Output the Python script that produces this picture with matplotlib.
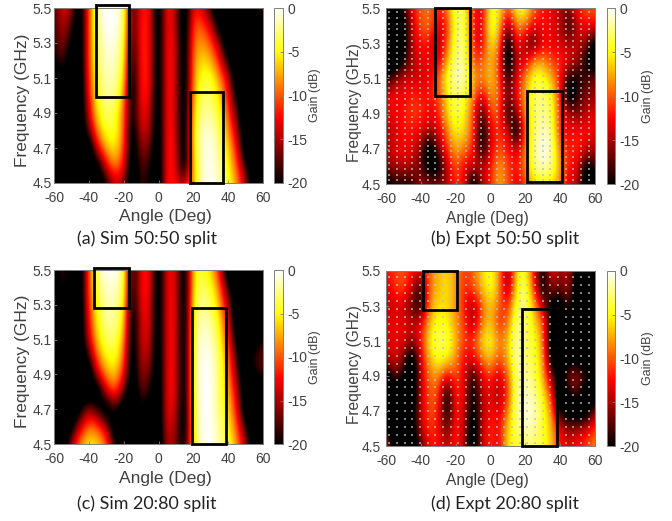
import numpy as np
import matplotlib
matplotlib.use('Agg')
import matplotlib.pyplot as plt
from matplotlib.colors import LinearSegmentedColormap
from matplotlib.patches import Rectangle

plt.rcParams['font.family'] = ['Liberation Sans', 'DejaVu Sans']
plt.rcParams['axes.unicode_minus'] = False

# sampled every 5 deg and every 0.1 GHz, first row is 5.5 GHz
angles = np.arange(-60, 61, 5)
freqs = [5.5, 5.4, 5.3, 5.2, 5.1, 5.0, 4.9, 4.8, 4.7, 4.6, 4.5]

sim_50_50 = [
    [-18, -13, -15, -24, -10, -1.5, 0, 0, -1.5, -20, -12, -12, -24, -11, -15, -24, -12, -14, -19, -24, -24, -24, -24, -19, -18],
    [-19, -14, -18, -24, -10, -2, 0, 0, -2, -20, -11, -12, -24, -11, -15, -24, -10, -10, -14, -22, -24, -24, -24, -24, -22],
    [-19, -15, -21, -24, -10, -2.5, -0.5, -0.5, -3, -21, -11, -12, -24, -11, -14, -24, -9, -8, -10, -16, -24, -24, -24, -24, -24],
    [-21, -17, -24, -24, -10, -3, -1, -1, -4, -22, -11, -12, -24, -11, -14, -24, -8, -6, -7, -12, -20, -24, -24, -24, -24],
    [-24, -20, -24, -24, -11, -3.5, -1.5, -1.5, -5, -23, -11, -12, -24, -11, -14, -24, -8, -4, -4, -8, -14, -24, -24, -24, -24],
    [-24, -24, -24, -24, -12, -4, -2, -2, -7, -24, -11, -13, -24, -11, -14, -24, -7, -3, -3, -6, -12, -21, -24, -24, -24],
    [-24, -24, -24, -24, -14, -5, -3, -3.5, -9, -22, -12, -14, -24, -11, -14, -24, -6, -2, -2, -4, -10, -18, -24, -24, -20],
    [-24, -24, -24, -24, -17, -8, -4, -4, -9, -24, -13, -15, -24, -11, -14, -24, -5, -1, -1, -3, -8, -15, -24, -24, -20],
    [-24, -24, -24, -24, -24, -13, -7, -5, -10, -24, -15, -17, -24, -11, -13, -24, -5, -1, 0, -2.5, -6, -12, -24, -24, -24],
    [-24, -24, -24, -24, -24, -22, -13, -8, -12, -24, -17, -19, -24, -11, -13, -24, -6, -1, 0, -2, -5, -10, -19, -24, -24],
    [-24, -24, -24, -21, -24, -24, -20, -14, -16, -24, -18, -20, -24, -11, -13, -15, -7, -1, 0, -1, -4, -8, -15, -24, -24],
]
expt_50_50 = [
    [-20, -20, -20, -12, -10, -9, -12, -9, -3, -3, -12, -14, -4, -5, -11, -4, -4, -10, -12, -13, -15, -16, -12, -10, -10],
    [-24, -24, -22, -14, -10, -9, -14, -12, -3, -3, -12, -14, -3, -6, -17, -8, -9, -13, -12, -13, -14, -20, -14, -12, -13],
    [-24, -24, -22, -14, -12, -12, -16, -10, -3, -2, -12, -14, -5, -8, -24, -11, -16, -19, -13, -13, -14, -15, -14, -16, -22],
    [-24, -24, -20, -15, -13, -13, -14, -8, -2, -2, -11, -10, -7, -10, -24, -14, -14, -8, -8, -11, -11, -13, -15, -20, -24],
    [-20, -16, -14, -14, -14, -13, -10, -4, -1, -1, -7, -9, -6, -10, -20, -13, -8, -4, -4, -7, -12, -20, -20, -18, -16],
    [-13, -12, -13, -11, -12, -12, -11, -6, -3, -4, -9, -14, -8, -9, -18, -12, -8, -2.5, -3, -4, -11, -24, -18, -16, -16],
    [-13, -13, -12, -11, -11, -13, -12, -6, -3, -5, -10, -20, -10, -10, -20, -16, -8, -3, -2, -3, -12, -14, -17, -14, -13],
    [-15, -14, -12, -12, -13, -15, -14, -9, -5, -6, -10, -22, -13, -11, -13, -24, -9, -3, -1, -2, -12, -13, -12, -12, -13],
    [-15, -13, -13, -13, -16, -24, -16, -11, -7, -9, -11, -22, -13, -10, -12, -14, -9, -2, 0, -1, -10, -12, -11, -14, -15],
    [-16, -15, -14, -15, -17, -22, -22, -14, -10, -13, -14, -14, -12, -7, -11, -12, -9, -2, -1, -2, -8, -12, -13, -22, -18],
    [-22, -19, -20, -19, -15, -16, -16, -15, -11, -12, -24, -15, -12, -7, -10, -14, -11, -6, -5, -6, -9, -14, -14, -24, -22],
]
sim_20_80 = [
    [-24, -16, -24, -24, -10, -2, 0, 0, -2, -22, -12, -12, -24, -12, -13, -24, -5, -4, -6, -12, -24, -24, -24, -24, -24],
    [-24, -18, -24, -24, -10, -3, -1, -1, -3, -22, -12, -12, -24, -12, -13, -24, -5, -3, -4, -9, -19, -24, -24, -24, -24],
    [-24, -24, -24, -24, -11, -4, -1.5, -1.5, -4, -23, -12, -13, -24, -12, -13, -24, -4, -2, -3, -7, -15, -24, -24, -24, -24],
    [-24, -24, -24, -24, -12, -5, -2, -2, -5, -24, -13, -13, -24, -12, -13, -24, -4, -1, -2, -5, -13, -24, -24, -24, -24],
    [-24, -24, -24, -24, -14, -6, -3, -3, -7, -24, -13, -14, -24, -12, -13, -24, -3, -0.5, -1, -4, -11, -22, -24, -22, -19],
    [-24, -24, -24, -24, -19, -9, -5, -4, -9, -24, -14, -15, -24, -12, -13, -24, -3, 0, -0.5, -3, -9, -19, -24, -18, -17],
    [-24, -24, -24, -24, -24, -14, -8, -6, -12, -24, -15, -17, -24, -12, -13, -24, -3, 0, 0, -3, -8, -17, -24, -20, -18],
    [-24, -24, -24, -24, -24, -24, -14, -10, -17, -24, -17, -19, -24, -12, -13, -24, -3, 0, 0, -3, -7, -14, -24, -24, -24],
    [-24, -24, -24, -21, -15, -19, -24, -18, -24, -24, -20, -22, -24, -12, -14, -24, -4, 0, 0, -3, -6, -12, -24, -24, -24],
    [-24, -24, -22, -14, -9, -10, -15, -24, -24, -24, -24, -24, -24, -13, -15, -24, -4, 0, 0, -2, -5, -10, -19, -24, -24],
    [-24, -24, -15, -8, -5, -6, -9, -19, -24, -24, -24, -24, -24, -14, -16, -22, -5, 0, 0, -2, -4, -8, -15, -24, -24],
]
expt_20_80 = [
    [-12, -11, -10, -12, -14, -9, -7, -6, -8, -11, -10, -6, -4, -8, -18, -5, -4, -12, -22, -12, -16, -14, -22, -24, -24],
    [-14, -11, -10, -14, -20, -9, -7, -5.5, -8, -12, -10, -7, -4, -8, -17, -5, -2, -11, -22, -15, -18, -14, -24, -24, -24],
    [-15, -14, -14, -18, -20, -8, -6, -6, -8, -12, -16, -10, -6, -10, -12, -3, -2, -7, -14, -22, -22, -18, -24, -24, -24],
    [-13, -13, -13, -14, -13, -7, -4, -5, -8, -11, -16, -9, -6, -12, -9, -2, -3, -6, -9, -22, -24, -18, -24, -24, -24],
    [-14, -13, -13, -16, -12, -5, -3, -3, -7, -11, -11, -6, -4, -9, -7, -1, -3, -4, -8, -24, -24, -22, -24, -24, -24],
    [-15, -13, -16, -24, -13, -7, -4, -5, -8, -13, -13, -9, -6, -11, -7, -1, -3, -4, -7, -22, -24, -22, -22, -24, -18],
    [-24, -16, -20, -24, -14, -9, -8, -13, -10, -13, -20, -13, -11, -14, -10, -2, -2, -3, -7, -16, -22, -15, -15, -18, -20],
    [-24, -24, -24, -24, -14, -10, -10, -22, -11, -13, -22, -14, -13, -16, -11, -2, -1, -2, -5, -11, -24, -20, -17, -24, -24],
    [-24, -24, -24, -22, -14, -10, -11, -22, -11, -14, -22, -15, -12, -14, -9, -1.5, -0.5, -1, -4, -8, -22, -22, -24, -24, -15],
    [-20, -24, -24, -22, -14, -11, -12, -18, -11, -14, -24, -14, -11, -13, -6, -3, -1, -2, -4, -7, -13, -16, -15, -13, -11],
    [-11, -24, -24, -24, -18, -12, -12, -15, -11, -15, -24, -14, -11, -14, -5, -5, -3, -3, -4, -6, -13, -13, -12, -11, -8],
]

captions = ['(a) Sim 50:50 split', '(b) Expt 50:50 split', '(c) Sim 20:80 split', '(d) Expt 20:80 split']
# left, right, bottom, top of the two beam boxes
boxes_a = [(-36, -17, 4.99, 5.52), (18, 37, 4.5, 5.02)]
boxes_b = [(-32, -12, 5.0, 5.5), (21, 41, 4.51, 5.03)]
boxes_c = [(-37, -17, 5.28, 5.51), (19, 39, 4.5, 5.28)]
boxes_d = [(-39, -19, 5.28, 5.5), (18, 38, 4.5, 5.28)]

angle_ticks = [-60, -40, -20, 0, 20, 40, 60]
freq_ticks = [4.5, 4.7, 4.9, 5.1, 5.3, 5.5]
gain_ticks = [0, -5, -10, -15, -20]

W, H = 672, 521
TEXT = '#404040'

# hot map that starts at real black
gain_cmap = LinearSegmentedColormap.from_list(
    'gain', [(0, 'black'), (0.375, 'red'), (0.75, 'yellow'), (1, 'white')])


def px_axes(fig, x0, x1, y0, y1):
    # pixel box measured from the top left of the image
    return fig.add_axes([x0 / W, 1 - y1 / H, (x1 - x0) / W, (y1 - y0) / H])


def draw_panel(fig, gain, boxes, caption, ax_box, cb_x, cap_xy, dot_step=None):
    expt = dot_step is not None
    x0, x1, y0, y1 = ax_box
    ax = px_axes(fig, x0, x1, y0, y1)
    im = ax.imshow(gain, cmap=gain_cmap, vmin=-20, vmax=0, aspect='auto', interpolation='bicubic',
                   extent=[angles[0] - 2.5, angles[-1] + 2.5, freqs[-1] - 0.05, freqs[0] + 0.05])
    if expt:
        # measurement grid shows through as pale dots
        gx, gy = np.meshgrid(np.arange(-58, 60, 4.4), np.arange(4.52, 5.5, dot_step))
        ax.scatter(gx, gy, s=2, marker='s', c='#bdbdbd', linewidths=0, alpha=0.7)
    for left, right, bottom, top in boxes:
        ax.add_patch(Rectangle((left, bottom), right - left, top - bottom, fill=False,
                               ec='black', lw=2.0, clip_on=False, zorder=5))
    ax.set_xlim(-60, 60)
    ax.set_ylim(4.5, 5.5)
    ax.set_xticks(angle_ticks)
    ax.set_yticks(freq_ticks)
    ax.tick_params(direction='in', length=2, width=0.6, color='#808080', labelsize=10,
                   labelcolor=TEXT)
    ax.tick_params(axis='x', pad=6)
    ax.tick_params(axis='y', pad=3.5 if expt else 1.5)
    label_size = 11.2 if expt else 12.5
    ax.set_xlabel('Angle (Deg)', fontsize=label_size, color=TEXT, va='center')
    ax.set_ylabel('Frequency (GHz)', fontsize=label_size, color=TEXT, va='center')
    ax.xaxis.set_label_coords(0.483 if expt else 0.531, -34 / (y1 - y0))
    ax.yaxis.set_label_coords(-32 / (x1 - x0), 0.463 if expt else 0.474)
    for s in ax.spines.values():
        s.set_color('#808080')
        s.set_linewidth(0.7)

    cax = px_axes(fig, cb_x[0], cb_x[1], y0, y1)
    cb = fig.colorbar(im, cax=cax)
    cb.set_ticks(gain_ticks)
    cb.ax.tick_params(direction='in', length=2, width=0.6, color='#808080', labelsize=10,
                      labelcolor=TEXT, pad=3)
    cb.set_label('Gain (dB)', fontsize=9, color=TEXT, va='center')
    cb.ax.yaxis.set_label_coords(41 / (cb_x[1] - cb_x[0]), 0.5)
    cb.outline.set_edgecolor('#808080')
    cb.outline.set_linewidth(0.7)

    fig.text(cap_xy[0] / W, 1 - cap_xy[1] / H, caption, family=['Lato', 'DejaVu Sans'], fontsize=12.9,
             color='#222222', ha='center', va='center')


fig = plt.figure(figsize=(6.72, 5.21), dpi=100)
draw_panel(fig, sim_50_50, boxes_a, captions[0], (54, 263, 8, 183), (274, 283), (147, 239))
draw_panel(fig, expt_50_50, boxes_b, captions[1], (386, 595, 8, 184), (607, 615), (505, 239), 0.033)
draw_panel(fig, sim_20_80, boxes_c, captions[2], (54, 263, 270, 444), (274, 283), (147, 504))
draw_panel(fig, expt_20_80, boxes_d, captions[3], (386, 595, 271, 446), (607, 615), (505, 504), 0.045)
fig.savefig('out.png', dpi=100)
